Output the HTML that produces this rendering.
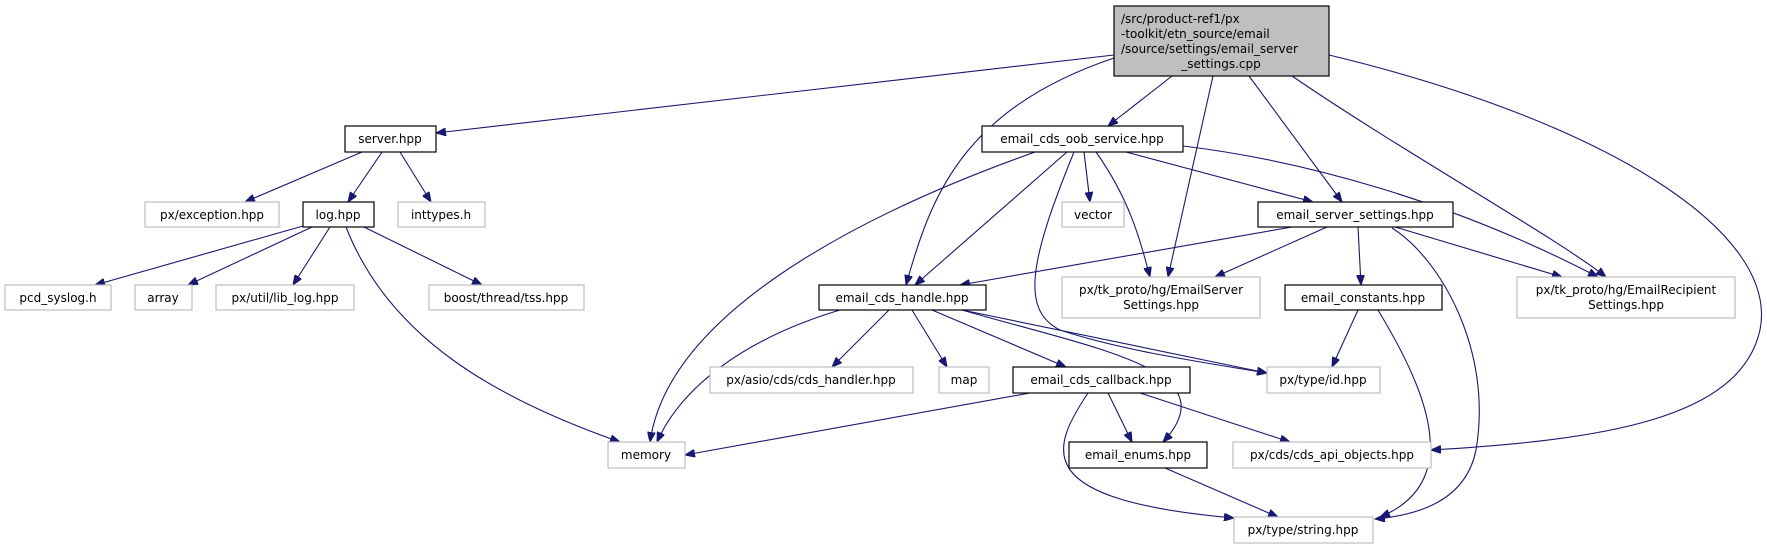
<!DOCTYPE html>
<html><head><meta charset="utf-8"><style>
html,body{margin:0;padding:0;background:#fff;}
svg{display:block}
text{font-family:"DejaVu Sans","Liberation Sans",sans-serif;font-size:12px;fill:#000}
.e{fill:none;stroke:#191970;stroke-width:1.1}
.n{fill:#fff;stroke:#000;stroke-width:1.2}
.g{fill:#fff;stroke:#bfbfbf;stroke-width:1.2}
</style></head><body>
<svg width="1767" height="547" viewBox="0 0 1767 547" xmlns="http://www.w3.org/2000/svg">
<defs><marker id="a" markerUnits="userSpaceOnUse" markerWidth="11" markerHeight="8" refX="10" refY="4" orient="auto"><path d="M0,0 L10,4 L0,8 z" fill="#191970" stroke="#191970"/></marker></defs>
<g marker-end="url(#a)">
<path class="e" d="M1114,55 L436,133"/>
<path class="e" d="M1114,58 C960,110 930,200 906,285"/>
<path class="e" d="M1172,76 L1108,126"/>
<path class="e" d="M1213,76 L1168,277"/>
<path class="e" d="M1249,76 L1342,202"/>
<path class="e" d="M1292,76 C1400,150 1560,240 1606,277"/>
<path class="e" d="M1329,55 C1600,120 1780,230 1760,330 C1740,420 1600,440 1431,450"/>
<path class="e" d="M362,152 L245,202"/>
<path class="e" d="M382,152 L348,202"/>
<path class="e" d="M400,152 L431,202"/>
<path class="e" d="M303,226 L95,285"/>
<path class="e" d="M312,227 L188,285"/>
<path class="e" d="M330,227 L293,285"/>
<path class="e" d="M364,227 L482,285"/>
<path class="e" d="M346,227 C390,340 500,400 620,442"/>
<path class="e" d="M1035,152 C900,200 670,300 650,442"/>
<path class="e" d="M1067,152 L915,285"/>
<path class="e" d="M1084,152 L1090,202"/>
<path class="e" d="M1096,152 C1130,200 1140,240 1150,277"/>
<path class="e" d="M1126,152 L1313,202"/>
<path class="e" d="M1183,146 C1300,160 1450,200 1598,277"/>
<path class="e" d="M1074,152 C1030,260 1020,310 1060,330 C1120,350 1200,362 1267,373"/>
<path class="e" d="M962,310 C1100,350 1230,370 1163,442"/>
<path class="e" d="M1292,227 L960,285"/>
<path class="e" d="M1327,227 L1215,277"/>
<path class="e" d="M1358,227 L1361,285"/>
<path class="e" d="M1395,227 L1562,277"/>
<path class="e" d="M1392,228 C1441,259 1493,351 1476,450 C1466,500 1420,515 1375,519"/>
<path class="e" d="M840,310 C740,340 680,390 657,442"/>
<path class="e" d="M889,310 L832,367"/>
<path class="e" d="M912,310 L947,367"/>
<path class="e" d="M932,310 L1066,367"/>
<path class="e" d="M962,310 L1267,373"/>
<path class="e" d="M1358,310 L1332,367"/>
<path class="e" d="M1378,310 C1420,380 1470,480 1380,517"/>
<path class="e" d="M1030,393 L685,455"/>
<path class="e" d="M1108,393 L1132,442"/>
<path class="e" d="M1140,393 L1290,442"/>
<path class="e" d="M1088,393 C1050,450 1030,500 1234,518"/>
<path class="e" d="M1165,468 L1278,517"/>
</g>
<rect x="1114" y="6" width="215" height="70" fill="#bfbfbf" stroke="#000" stroke-width="1.2"/>
<text x="1121" y="23">/src/product-ref1/px</text>
<text x="1121" y="38">-toolkit/etn_source/email</text>
<text x="1121" y="53">/source/settings/email_server</text>
<text x="1221" y="68" text-anchor="middle">_settings.cpp</text>
<g text-anchor="middle">
<rect class="n" x="345" y="126" width="91" height="26"/><text x="390" y="143">server.hpp</text>
<rect class="g" x="145" y="202" width="134" height="25"/><text x="212" y="219">px/exception.hpp</text>
<rect class="n" x="303" y="202" width="71" height="25"/><text x="338" y="219">log.hpp</text>
<rect class="g" x="398" y="202" width="87" height="25"/><text x="441" y="219">inttypes.h</text>
<rect class="g" x="5" y="285" width="106" height="25"/><text x="58" y="302">pcd_syslog.h</text>
<rect class="g" x="135" y="285" width="57" height="25"/><text x="163" y="302">array</text>
<rect class="g" x="216" y="285" width="138" height="25"/><text x="285" y="302">px/util/lib_log.hpp</text>
<rect class="g" x="429" y="285" width="155" height="25"/><text x="506" y="302">boost/thread/tss.hpp</text>
<rect class="g" x="608" y="442" width="77" height="26"/><text x="646" y="459">memory</text>
<rect class="n" x="982" y="126" width="201" height="26"/><text x="1082" y="143">email_cds_oob_service.hpp</text>
<rect class="g" x="1062" y="202" width="62" height="25"/><text x="1093" y="219">vector</text>
<rect class="n" x="1258" y="202" width="195" height="25"/><text x="1355" y="219">email_server_settings.hpp</text>
<rect class="n" x="819" y="285" width="167" height="25"/><text x="902" y="302">email_cds_handle.hpp</text>
<rect class="g" x="1062" y="277" width="198" height="41"/><text x="1161" y="294">px/tk_proto/hg/EmailServer</text><text x="1161" y="309">Settings.hpp</text>
<rect class="n" x="1285" y="285" width="157" height="25"/><text x="1363" y="302">email_constants.hpp</text>
<rect class="g" x="1517" y="277" width="218" height="41"/><text x="1626" y="294">px/tk_proto/hg/EmailRecipient</text><text x="1626" y="309">Settings.hpp</text>
<rect class="g" x="710" y="367" width="203" height="26"/><text x="811" y="384">px/asio/cds/cds_handler.hpp</text>
<rect class="g" x="939" y="367" width="50" height="26"/><text x="964" y="384">map</text>
<rect class="n" x="1013" y="367" width="177" height="26"/><text x="1101" y="384">email_cds_callback.hpp</text>
<rect class="g" x="1267" y="367" width="113" height="26"/><text x="1323" y="384">px/type/id.hpp</text>
<rect class="n" x="1069" y="442" width="138" height="26"/><text x="1138" y="459">email_enums.hpp</text>
<rect class="g" x="1233" y="442" width="198" height="26"/><text x="1332" y="459">px/cds/cds_api_objects.hpp</text>
<rect class="g" x="1234" y="517" width="139" height="26"/><text x="1303" y="534">px/type/string.hpp</text>
</g>
</svg>
</body></html>
